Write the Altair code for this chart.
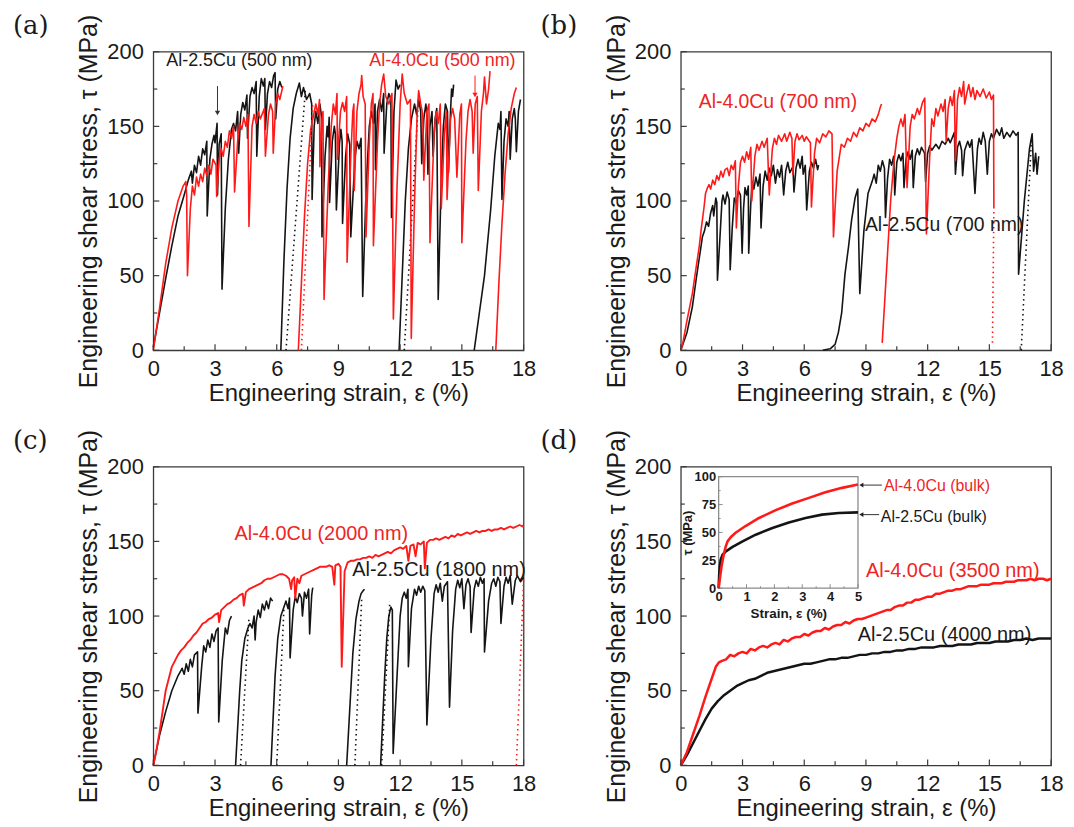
import altair as alt
import pandas as pd

RED = "#ff1a1a"
RED_TEXT = "#ee2525"
BLACK = "#141414"
FRAME = "#3a3a3a"
FONT = "Liberation Sans"
SERIF = "DejaVu Serif"

W, H = 372, 300

# ---------------- tick values ----------------
X_MAJOR = [0, 3, 6, 9, 12, 15, 18]
X_MINOR = [1.5, 4.5, 7.5, 10.5, 13.5, 16.5]
Y_MAJOR = [0, 50, 100, 150, 200]
Y_MINOR = [25, 75, 125, 175]
INSET_X_MAJOR = [0, 1, 2, 3, 4, 5]
INSET_X_MINOR = [0.5, 1.5, 2.5, 3.5, 4.5]
INSET_Y_MAJOR = [0, 25, 50, 75, 100]
INSET_Y_MINOR = [12.5, 37.5, 62.5, 87.5]

# ---------------- panel (a): 500 nm ----------------
A_BLK1 = [(0,2),(0.3,25),(0.6,48),(0.9,70),(1.2,90),(1.5,104),(1.7,114),(1.85,120),(1.9,112),(2.0,124),(2.1,119),(2.2,130),(2.3,124),(2.4,135),(2.5,131),(2.6,140),(2.62,90),(2.75,128),(2.85,138),(2.95,144),(3.0,139),(3.1,152),(3.12,104),(3.2,138),(3.3,145),(3.34,41),(3.5,95),(3.65,128),(3.8,148),(3.9,152),(4.0,147),(4.1,160),(4.15,132),(4.25,158),(4.35,166),(4.45,161),(4.55,171),(4.58,142),(4.7,170),(4.8,176),(4.9,172),(5.0,180),(5.03,130),(5.15,170),(5.25,182),(5.35,177),(5.42,182),(5.45,148),(5.55,172),(5.65,180),(5.75,176),(5.85,184),(5.92,186),(5.95,155),(6.05,175),(6.15,180),(6.25,176)]
A_BLK2 = [(6.2,0),(6.35,60),(6.5,108),(6.65,142),(6.8,162),(6.95,172),(7.1,179),(7.2,170),(7.3,176),(7.45,168),(7.6,172),(7.7,165),(7.72,101),(7.82,150),(7.9,160),(8.0,152),(8.1,165),(8.18,156),(8.2,76),(8.35,130),(8.45,150),(8.5,143),(8.55,156),(8.57,99),(8.7,140),(8.8,150),(8.85,145),(8.9,94),(9.05,138),(9.12,148),(9.18,140),(9.2,85),(9.35,130),(9.45,145),(9.55,138),(9.6,76),(9.8,128),(9.9,140),(10.0,135),(10.1,142),(10.18,36),(10.35,110),(10.5,150),(10.6,160),(10.7,152),(10.78,165),(10.8,121),(10.9,160),(11.0,168),(11.1,160),(11.2,172),(11.22,132),(11.35,165),(11.45,172),(11.55,168),(11.58,89),(11.7,160),(11.8,181),(11.9,175),(12.0,178)]
A_BLK3 = [(11.95,0),(12.1,50),(12.25,100),(12.4,135),(12.55,155),(12.7,165),(12.8,158),(12.9,168),(13.0,160),(13.05,125),(13.15,155),(13.25,165),(13.3,158),(13.35,118),(13.45,150),(13.55,160),(13.6,130),(13.7,155),(13.78,162),(13.85,34),(14.0,115),(14.1,150),(14.2,165),(14.3,160),(14.35,119),(14.45,160),(14.5,175),(14.55,170),(14.6,178)]
A_BLK4 = [(15.6,0),(15.85,25),(16.1,50),(16.4,94),(16.6,130),(16.77,152),(16.85,148),(16.9,160),(16.95,101),(17.05,140),(17.15,155),(17.25,150),(17.3,160),(17.35,128),(17.45,155),(17.55,162),(17.6,155),(17.65,133),(17.75,160),(17.85,168)]
A_BLK_DOT1 = [(6.45,0),(7.4,176)]
A_BLK_DOT2 = [(12.2,0),(12.9,170)]
A_RED1 = [(0,0),(0.3,28),(0.6,58),(0.9,82),(1.2,100),(1.45,110),(1.58,113),(1.62,104),(1.66,50),(1.8,95),(1.9,110),(2.0,104),(2.1,116),(2.2,110),(2.3,118),(2.4,113),(2.5,122),(2.6,117),(2.7,124),(2.8,118),(2.9,128),(3.05,124),(3.08,103),(3.2,128),(3.3,135),(3.4,130),(3.5,140),(3.6,136),(3.7,147),(3.8,142),(3.9,150),(3.95,106),(4.1,140),(4.2,152),(4.3,148),(4.4,156),(4.5,150),(4.6,158),(4.65,83),(4.8,150),(4.9,158),(5.0,152),(5.1,160),(5.2,155),(5.4,162),(5.45,130),(5.6,158),(5.7,165),(5.8,160),(5.83,132),(5.95,165),(6.05,172),(6.15,168),(6.3,177)]
A_RED2 = [(7.05,0),(7.2,45),(7.35,90),(7.5,125),(7.65,148),(7.8,158),(7.9,165),(8.0,158),(8.08,168),(8.1,123),(8.2,155),(8.25,160),(8.3,34),(8.5,110),(8.65,150),(8.75,165),(8.85,158),(8.93,172),(8.95,128),(9.1,160),(9.2,166),(9.3,160),(9.4,170),(9.42,59),(9.6,130),(9.7,160),(9.75,165),(9.77,107),(9.9,160),(10.0,172),(10.1,178),(10.13,184),(10.2,170),(10.3,165),(10.34,76),(10.5,140),(10.6,165),(10.68,172),(10.7,70),(10.9,140),(11.0,165),(11.1,178),(11.2,185),(11.3,170),(11.45,165),(11.6,172),(11.67,21),(11.85,110),(12.0,165),(12.1,185),(12.2,172),(12.35,165),(12.5,168),(12.54,8),(12.7,100),(12.83,160),(12.9,174),(13.0,165),(13.1,158),(13.15,114),(13.3,160),(13.4,165),(13.45,72),(13.65,145),(13.75,160),(13.85,152),(13.95,165),(14.0,95),(14.15,145),(14.25,160),(14.28,101),(14.45,155),(14.55,162),(14.65,155),(14.76,116),(14.9,158),(14.98,165),(15.0,72),(15.2,140),(15.3,160),(15.4,168),(15.5,160),(15.55,132),(15.65,165),(15.75,170),(15.8,107),(15.95,160),(16.05,172),(16.1,183),(16.2,165),(16.3,175),(16.37,187)]
A_RED3 = [(16.65,0),(16.8,45),(16.95,85),(17.1,118),(17.25,145),(17.4,162),(17.55,172),(17.65,176)]
A_RED_DOT1 = [(7.2,0),(7.75,165)]
A_TEXT_X = [0.63, 10.5]
A_TEXT_Y = [193.5, 193.5]
A_TEXT = ["Al-2.5Cu (500 nm)", "Al-4.0Cu (500 nm)"]
A_ARROW_X = [3.12, 15.64]
A_ARROW_Y1 = [177, 184]
A_ARROW_Y2 = [159, 171]

# ---------------- panel (b): 700 nm ----------------
B_BLK1 = [(0,0),(0.3,12),(0.56,29),(0.75,48),(0.9,62),(1.05,76),(1.15,80),(1.25,86),(1.35,83),(1.45,92),(1.55,97),(1.6,90),(1.7,102),(1.75,99),(1.78,47),(1.9,75),(2.0,100),(2.05,104),(2.15,98),(2.25,106),(2.35,101),(2.4,54),(2.5,82),(2.6,102),(2.7,98),(2.8,107),(2.9,104),(2.98,65),(3.05,95),(3.12,109),(3.2,104),(3.28,110),(3.3,65),(3.4,98),(3.47,113),(3.55,108),(3.65,116),(3.75,110),(3.85,118),(3.9,82),(4.0,110),(4.1,120),(4.2,114),(4.3,122),(4.4,117),(4.5,124),(4.6,112),(4.7,121),(4.8,116),(4.9,124),(5.0,104),(5.1,120),(5.2,126),(5.3,119),(5.45,123),(5.5,106),(5.6,122),(5.7,128),(5.8,122),(5.9,130),(5.95,118),(6.05,124),(6.12,94),(6.25,120),(6.35,126),(6.45,122),(6.55,128),(6.65,121),(6.7,124)]
B_BLK2 = [(6.9,0),(7.26,1),(7.5,4),(7.66,12),(7.82,25),(7.98,51),(8.15,69),(8.3,87),(8.47,102),(8.6,108),(8.7,38),(8.9,80),(9.1,105),(9.3,113),(9.4,118),(9.5,112),(9.6,124),(9.7,120),(9.8,127),(9.9,122),(9.95,89),(10.05,115),(10.15,128),(10.25,124),(10.35,130),(10.4,104),(10.5,126),(10.6,131),(10.7,127),(10.8,132),(10.85,109),(10.95,128),(11.05,133),(11.15,128),(11.25,134),(11.3,109),(11.4,130),(11.5,135),(11.6,131),(11.7,136),(11.85,132),(11.9,113),(12.0,132),(12.1,137),(12.2,134),(12.4,138),(12.55,135),(12.7,140),(12.85,138),(13.0,142),(13.1,139),(13.3,146),(13.35,118),(13.45,136),(13.55,140),(13.65,134),(13.7,117),(13.8,134),(13.95,140),(14.05,136),(14.15,141),(14.3,105),(14.42,135),(14.5,142),(14.6,138),(14.7,146),(14.8,140),(14.9,118),(15.0,140),(15.1,145),(15.2,142),(15.35,148),(15.5,144),(15.6,149),(15.7,142),(15.85,146),(16.0,143),(16.15,147),(16.3,144),(16.4,146),(16.42,51),(16.7,100),(16.95,135),(17.08,145),(17.15,120),(17.25,132),(17.32,118),(17.4,130)]
B_BLK_DOT1 = [(16.55,0),(17.05,143)]
B_RED1 = [(0,0),(0.1,5),(0.3,20),(0.56,38),(0.75,56),(0.89,69),(1.0,82),(1.13,96),(1.2,105),(1.3,109),(1.37,111),(1.45,108),(1.55,114),(1.65,111),(1.75,117),(1.85,114),(1.95,120),(2.05,116),(2.15,121),(2.26,122),(2.35,117),(2.45,124),(2.55,121),(2.65,127),(2.7,82),(2.8,110),(2.9,126),(3.0,130),(3.1,126),(3.2,133),(3.3,128),(3.4,136),(3.45,100),(3.6,130),(3.7,138),(3.8,134),(3.95,140),(4.05,136),(4.2,142),(4.3,104),(4.45,135),(4.55,142),(4.65,138),(4.75,144),(4.9,140),(5.05,145),(5.15,140),(5.3,146),(5.4,142),(5.45,118),(5.55,140),(5.65,145),(5.75,141),(5.9,144),(6.0,140),(6.1,143),(6.3,139),(6.35,96),(6.5,132),(6.6,142),(6.75,139),(6.9,145),(7.05,143),(7.2,147),(7.35,145),(7.42,76),(7.6,120),(7.8,138),(7.95,136),(8.1,142),(8.25,140),(8.4,146),(8.55,143),(8.7,149),(8.85,147),(9.0,152),(9.15,150),(9.3,155),(9.45,153),(9.6,158),(9.7,163),(9.76,165)]
B_RED2 = [(9.79,5),(9.9,30),(10.05,65),(10.2,100),(10.35,125),(10.5,142),(10.6,150),(10.7,155),(10.8,150),(10.9,158),(11.0,109),(11.15,150),(11.25,158),(11.35,155),(11.5,162),(11.6,158),(11.75,166),(11.86,169),(11.94,78),(12.1,130),(12.2,155),(12.3,150),(12.4,162),(12.5,157),(12.65,165),(12.75,160),(12.85,168),(12.9,140),(13.0,162),(13.1,170),(13.2,164),(13.3,174),(13.35,127),(13.45,168),(13.55,176),(13.65,170),(13.75,180),(13.8,165),(13.9,172),(14.0,178),(14.1,170),(14.2,176),(14.3,168),(14.4,174),(14.55,170),(14.7,175),(14.85,169),(15.0,173),(15.1,168),(15.2,171),(15.22,96)]
B_RED_DOT1 = [(15.22,96),(15.15,4)]
B_TEXT_X = [0.87, 8.95]
B_TEXT_Y = [166, 84]
B_TEXT = ["Al-4.0Cu (700 nm)", "Al-2.5Cu (700 nm)"]

# ---------------- panel (c): 2000 / 1800 nm ----------------
C_BLK1 = [(0,0),(0.3,20),(0.6,36),(0.9,50),(1.2,60),(1.4,65),(1.5,61),(1.6,68),(1.7,63),(1.8,71),(1.9,66),(2.0,74),(2.15,76),(2.17,35),(2.35,66),(2.45,80),(2.55,76),(2.65,84),(2.75,79),(2.85,88),(2.95,83),(3.05,90),(3.15,92),(3.18,29),(3.35,70),(3.5,92),(3.6,88),(3.7,97),(3.8,100)]
C_BLK2 = [(4.0,0),(4.1,25),(4.2,50),(4.3,70),(4.45,85),(4.6,92),(4.7,95),(4.8,92),(4.9,100),(4.95,84),(5.0,96),(5.1,104),(5.2,99),(5.3,108),(5.4,104),(5.5,110),(5.6,105),(5.7,112),(5.8,110)]
C_BLK3 = [(5.72,0),(5.82,30),(5.92,60),(6.05,85),(6.2,100),(6.35,106),(6.45,110),(6.55,105),(6.62,112),(6.65,72),(6.8,104),(6.9,113),(7.0,109),(7.1,115),(7.2,112),(7.25,100),(7.35,116),(7.45,112),(7.55,118),(7.6,88),(7.7,114),(7.75,119)]
C_BLK4 = [(9.4,0),(9.5,25),(9.6,50),(9.7,75),(9.85,98),(10.0,110),(10.1,115),(10.2,117),(10.27,118)]
C_BLK5 = [(11.05,0),(11.15,30),(11.25,60),(11.35,85),(11.45,100),(11.55,106),(11.62,104),(11.66,8),(11.85,60),(12.0,100),(12.1,112),(12.2,116),(12.3,112),(12.38,118),(12.4,66),(12.55,105),(12.7,118),(12.8,114),(12.9,120),(13.0,116),(13.1,120),(13.2,117),(13.3,27),(13.5,85),(13.65,115),(13.75,121),(13.85,116),(13.95,122),(14.05,110),(14.15,120),(14.3,123),(14.4,39),(14.55,90),(14.7,118),(14.8,124),(14.9,119),(15.0,125),(15.1,105),(15.2,121),(15.3,125),(15.4,120),(15.45,89),(15.6,118),(15.7,124),(15.8,120),(15.9,126),(16.0,122),(16.08,125),(16.1,76),(16.3,110),(16.45,122),(16.55,125),(16.65,120),(16.75,126),(16.85,123),(16.9,95),(17.05,120),(17.15,126),(17.25,122),(17.35,127),(17.45,108),(17.6,124),(17.7,127),(17.85,123),(18.0,126)]
C_BLK_DOT1 = [(4.24,0),(4.65,99)]
C_BLK_DOT2 = [(6.0,0),(6.35,105)]
C_BLK_DOT3 = [(9.8,0),(10.13,112)]
C_BLK_DOT4 = [(11.1,0),(11.5,110)]
C_RED1 = [(0,0),(0.15,10),(0.3,22),(0.45,36),(0.6,50),(0.75,58),(0.9,66),(1.05,70),(1.2,74),(1.35,77),(1.5,79),(1.65,82),(1.8,84),(1.95,87),(2.1,89),(2.25,92),(2.4,95),(2.55,96),(2.7,98),(2.85,99),(3.0,101),(3.15,102),(3.2,96),(3.3,104),(3.45,106),(3.6,108),(3.75,109),(3.9,111),(4.05,112),(4.2,114),(4.35,115),(4.4,107),(4.5,116),(4.65,118),(4.8,119),(4.95,120),(5.1,121),(5.25,122),(5.4,124),(5.55,125),(5.7,125),(5.85,126),(6.0,127),(6.15,128),(6.3,128),(6.45,127),(6.6,125),(6.7,118),(6.75,124),(6.85,126),(6.9,112),(7.0,125),(7.1,122),(7.2,127),(7.35,128),(7.5,129),(7.65,130),(7.8,131),(7.95,132),(8.1,133),(8.25,133),(8.4,133),(8.55,134),(8.7,133),(8.8,121),(8.85,134),(9.0,135),(9.1,133),(9.16,66),(9.3,130),(9.45,136),(9.6,137),(9.75,137),(9.9,138),(10.05,138),(10.2,139),(10.35,139),(10.5,140),(10.65,139),(10.8,141),(10.95,140),(11.1,141),(11.25,142),(11.4,143),(11.55,142),(11.7,144),(11.85,145),(12.0,146),(12.15,145),(12.3,147),(12.4,137),(12.5,147),(12.65,148),(12.75,140),(12.85,149),(13.0,148),(13.15,150),(13.2,132),(13.3,149),(13.45,151),(13.6,151),(13.75,152),(13.9,151),(14.05,152),(14.2,153),(14.35,152),(14.5,154),(14.65,153),(14.8,155),(14.95,154),(15.1,155),(15.25,156),(15.4,155),(15.55,156),(15.7,157),(15.85,156),(16.0,157),(16.15,157),(16.3,158),(16.45,157),(16.6,158),(16.75,158),(16.9,159),(17.05,158),(17.2,159),(17.35,160),(17.5,159),(17.65,160),(17.8,161),(17.95,160),(18.0,161)]
C_RED_DOT1 = [(17.65,0),(17.75,35),(17.85,70),(17.95,105),(18.0,125)]
C_TEXT_X = [3.95, 9.67]
C_TEXT_Y = [155, 131]
C_TEXT = ["Al-4.0Cu (2000 nm)", "Al-2.5Cu (1800 nm)"]

# ---------------- panel (d): 3500 / 4000 nm ----------------
D_RED = [(0,0),(0.3,9),(0.6,21),(0.9,33),(1.2,46),(1.5,58),(1.7,66),(1.85,69),(2.0,70),(2.2,71),(2.4,74),(2.6,73),(2.8,75),(3.0,76),(3.2,75),(3.4,78),(3.6,77),(3.8,79),(4.0,80),(4.2,79),(4.4,81),(4.6,82),(4.8,81),(5.0,84),(5.2,83),(5.4,85),(5.6,86),(5.8,86),(6.0,88),(6.2,87),(6.4,89),(6.6,90),(6.8,90),(7.0,92),(7.2,91),(7.4,93),(7.6,94),(7.8,94),(8.0,96),(8.2,95),(8.4,97),(8.6,98),(8.8,98),(9.0,99),(9.2,100),(9.4,101),(9.6,102),(9.8,103),(10.0,104),(10.2,104),(10.4,106),(10.6,107),(10.8,107),(11.0,109),(11.2,109),(11.4,111),(11.6,111),(11.8,112),(12.0,113),(12.2,113),(12.4,115),(12.6,115),(12.8,116),(13.0,117),(13.2,117),(13.4,118),(13.6,118),(13.8,119),(14.0,120),(14.2,120),(14.4,120),(14.6,121),(14.8,121),(15.0,121),(15.2,122),(15.4,122),(15.6,122),(15.8,123),(16.0,123),(16.2,123),(16.4,124),(16.6,124),(16.8,124),(17.0,125),(17.2,124),(17.4,125),(17.6,125),(17.8,124),(18.0,125)]
D_BLK = [(0,0),(0.3,7),(0.6,15),(0.9,23),(1.2,31),(1.5,38),(1.8,43),(2.1,47),(2.4,50),(2.7,53),(3.0,55),(3.3,57),(3.6,58),(3.9,60),(4.2,62),(4.5,63),(4.8,64),(5.1,65),(5.4,66),(5.7,67),(6.0,68),(6.3,68),(6.6,69),(6.9,70),(7.2,71),(7.5,71),(7.8,72),(8.1,72),(8.4,73),(8.7,74),(9.0,74),(9.3,75),(9.6,75),(9.9,76),(10.2,76),(10.5,77),(10.8,77),(11.1,78),(11.4,78),(11.7,79),(12.0,79),(12.3,79),(12.6,80),(12.9,80),(13.2,80),(13.5,81),(13.8,81),(14.1,81),(14.4,82),(14.7,82),(15.0,82),(15.3,83),(15.6,83),(15.9,83),(16.2,84),(16.5,84),(16.8,85),(17.1,84),(17.4,85),(17.7,85),(18.0,85)]
D_TEXT_X = [9.0, 8.6]
D_TEXT_Y = [130, 87]
D_TEXT = ["Al-4.0Cu (3500 nm)", "Al-2.5Cu (4000 nm)"]

# inset (bulk)
I_RED = [(0,0),(0.05,10),(0.1,19),(0.15,26),(0.2,32),(0.25,37),(0.32,42),(0.44,46),(0.62,50),(0.98,56),(1.45,63),(2.05,70),(2.64,76),(3.24,81),(3.83,86),(4.43,90),(5.0,93)]
I_BLK = [(0,0),(0.02,12),(0.04,20),(0.08,26),(0.14,30),(0.26,33),(0.5,37),(0.86,42),(1.33,48),(1.93,54),(2.52,59),(3.12,63),(3.71,66),(4.31,67.5),(5.0,68)]
I_TEXT_X = [5.93, 5.82]
I_TEXT_Y = [92, 63.5]
I_TEXT = ["Al-4.0Cu (bulk)", "Al-2.5Cu (bulk)"]
I_ARROW_X1 = [5.12, 5.12]
I_ARROW_X2 = [5.86, 5.76]
I_ARROW_Y = [92.5, 66]


def segs_df(segments, tag):
    rows = []
    for k, seg in enumerate(segments):
        for i, (x, y) in enumerate(seg):
            rows.append({"x": x, "y": y, "seg": f"{tag}{k}", "i": i})
    return pd.DataFrame(rows)


def text_df(xs, ys, ts, colors):
    return pd.DataFrame({"x": xs, "y": ys, "t": ts, "c": colors})


def main_encodings():
    xenc = alt.X("x:Q", scale=alt.Scale(domain=[0, 18], nice=False, zero=False),
                 axis=alt.Axis(values=X_MAJOR, title="Engineering strain, ε (%)", ticks=False,
                               domain=False, grid=False, labelFlush=False, labelFontSize=22,
                               titleFontSize=24, labelPadding=8, titlePadding=2,
                               labelFont=FONT, titleFont=FONT, labelColor="#1a1a1a",
                               titleColor="#1a1a1a", titleFontWeight="normal"))
    yenc = alt.Y("y:Q", scale=alt.Scale(domain=[0, 200], nice=False, zero=False),
                 axis=alt.Axis(values=Y_MAJOR, title="Engineering shear stress, τ (MPa)", ticks=False,
                               domain=False, grid=False, labelFontSize=22, titleFontSize=25,
                               labelPadding=10, titlePadding=5, labelFont=FONT, titleFont=FONT,
                               labelColor="#1a1a1a", titleColor="#1a1a1a", titleFontWeight="normal"))
    return xenc, yenc


def tick_layers(xenc, yenc):
    lay = []
    lay.append(alt.Chart(pd.DataFrame({"x": X_MAJOR})).mark_rule(color=FRAME, strokeWidth=1.2)
               .encode(x=xenc, y=alt.value(H), y2=alt.value(H - 6)))
    lay.append(alt.Chart(pd.DataFrame({"x": X_MINOR})).mark_rule(color=FRAME, strokeWidth=1.2)
               .encode(x=xenc, y=alt.value(H), y2=alt.value(H - 4)))
    lay.append(alt.Chart(pd.DataFrame({"y": Y_MAJOR})).mark_rule(color=FRAME, strokeWidth=1.2)
               .encode(y=yenc, x=alt.value(0), x2=alt.value(6)))
    lay.append(alt.Chart(pd.DataFrame({"y": Y_MINOR})).mark_rule(color=FRAME, strokeWidth=1.2)
               .encode(y=yenc, x=alt.value(0), x2=alt.value(4)))
    return lay


def line_layer(segments, tag, color, xenc, yenc, width, dotted=False):
    if dotted:
        mk = alt.Chart(segs_df(segments, tag)).mark_line(color=color, strokeWidth=1.6, strokeDash=[1.5, 3.5])
    else:
        mk = alt.Chart(segs_df(segments, tag)).mark_line(color=color, strokeWidth=width, strokeJoin="round")
    return mk.encode(x=xenc, y=yenc, detail="seg:N", order="i:Q")


def label_layer(letter):
    return alt.Chart(pd.DataFrame({"t": [letter]})).mark_text(
        font=SERIF, fontSize=26, align="left", baseline="alphabetic", color="#1a1a1a"
    ).encode(x=alt.value(-141), y=alt.value(-18), text="t:N")


def text_layer(xs, ys, ts, size, xenc, yenc):
    df = text_df(xs, ys, ts, [RED_TEXT if "4.0Cu" in t else "#1a1a1a" for t in ts])
    return alt.Chart(df).mark_text(font=FONT, fontSize=size, align="left", baseline="middle").encode(
        x=xenc, y=yenc, text="t:N", color=alt.Color("c:N", scale=None))


# ---------------- panel (a) ----------------
xa, ya = main_encodings()
arrows_a = pd.DataFrame({"x": A_ARROW_X, "y": A_ARROW_Y1, "y2": A_ARROW_Y2, "c": ["#333333", RED]})
heads_a = pd.DataFrame({"x": A_ARROW_X, "y": A_ARROW_Y2, "c": ["#333333", RED]})
panel_a = alt.layer(
    line_layer([A_BLK1, A_BLK2, A_BLK3, A_BLK4], "b", BLACK, xa, ya, 1.6),
    line_layer([A_BLK_DOT1, A_BLK_DOT2], "bd", BLACK, xa, ya, 1.6, dotted=True),
    line_layer([A_RED1, A_RED2, A_RED3], "r", RED, xa, ya, 1.6),
    line_layer([A_RED_DOT1], "rd", RED, xa, ya, 1.6, dotted=True),
    alt.Chart(arrows_a).mark_rule(strokeWidth=1).encode(x=xa, y=ya, y2="y2:Q", color=alt.Color("c:N", scale=None)),
    alt.Chart(heads_a).mark_point(shape="triangle-down", filled=True, size=28, opacity=1).encode(
        x=xa, y=ya, color=alt.Color("c:N", scale=None)),
    text_layer(A_TEXT_X, A_TEXT_Y, A_TEXT, 18, xa, ya),
    label_layer("(a)"),
    *tick_layers(xa, ya),
).properties(width=W, height=H)

# ---------------- panel (b) ----------------
xb, yb = main_encodings()
panel_b = alt.layer(
    line_layer([B_BLK1, B_BLK2], "b", BLACK, xb, yb, 1.6),
    line_layer([B_BLK_DOT1], "bd", BLACK, xb, yb, 1.6, dotted=True),
    line_layer([B_RED1, B_RED2], "r", RED, xb, yb, 1.6),
    line_layer([B_RED_DOT1], "rd", RED, xb, yb, 1.6, dotted=True),
    text_layer(B_TEXT_X, B_TEXT_Y, B_TEXT, 19.5, xb, yb),
    label_layer("(b)"),
    *tick_layers(xb, yb),
).properties(width=W, height=H)

# ---------------- panel (c) ----------------
xc, yc = main_encodings()
panel_c = alt.layer(
    line_layer([C_BLK1, C_BLK2, C_BLK3, C_BLK4, C_BLK5], "b", BLACK, xc, yc, 1.6),
    line_layer([C_BLK_DOT1, C_BLK_DOT2, C_BLK_DOT3, C_BLK_DOT4], "bd", BLACK, xc, yc, 1.6, dotted=True),
    line_layer([C_RED1], "r", RED, xc, yc, 1.9),
    line_layer([C_RED_DOT1], "rd", RED, xc, yc, 1.6, dotted=True),
    text_layer(C_TEXT_X, C_TEXT_Y, C_TEXT, 20, xc, yc),
    label_layer("(c)"),
    *tick_layers(xc, yc),
)

# ---------------- panel (d) ----------------
xd, yd = main_encodings()
main_d = alt.layer(
    line_layer([D_BLK], "b", BLACK, xd, yd, 2.5),
    line_layer([D_RED], "r", RED, xd, yd, 2.5),
    text_layer(D_TEXT_X, D_TEXT_Y, D_TEXT, 20, xd, yd),
    label_layer("(d)"),
    *tick_layers(xd, yd),
)

ix = alt.X("x:Q", scale=alt.Scale(domain=[0, 5], range=[38, 178], nice=False, zero=False),
           axis=alt.Axis(orient="bottom", offset=-178, values=INSET_X_MAJOR, title="Strain, ε (%)",
                         ticks=False, domain=False, grid=False, labelFlush=False, labelFontSize=13,
                         labelFontWeight="bold", titleFontSize=13.5, titleFontWeight="bold",
                         labelPadding=2, titlePadding=3, labelFont=FONT, titleFont=FONT,
                         labelColor="#1a1a1a", titleColor="#1a1a1a"))
iy = alt.Y("y:Q", scale=alt.Scale(domain=[0, 100], range=[122, 10], nice=False, zero=False),
           axis=alt.Axis(orient="left", offset=-38, values=INSET_Y_MAJOR, title="τ (MPa)",
                         ticks=False, domain=False, grid=False, labelFontSize=13,
                         labelFontWeight="bold", titleFontSize=13, titleFontWeight="bold",
                         labelPadding=3, titlePadding=0, labelFont=FONT, titleFont=FONT,
                         labelColor="#1a1a1a", titleColor="#1a1a1a"))

inset_frame = alt.Chart(pd.DataFrame({"x": [0], "x2": [5], "y": [0], "y2": [100]})).mark_rect(
    fillOpacity=0, stroke="#8c8c8c", strokeWidth=1.3).encode(x=ix, x2="x2:Q", y=iy, y2="y2:Q")
inset_ticks = [
    alt.Chart(pd.DataFrame({"x": INSET_X_MAJOR})).mark_rule(color="#8c8c8c").encode(x=ix, y=alt.value(122), y2=alt.value(118)),
    alt.Chart(pd.DataFrame({"x": INSET_X_MINOR})).mark_rule(color="#8c8c8c").encode(x=ix, y=alt.value(122), y2=alt.value(120)),
    alt.Chart(pd.DataFrame({"y": INSET_Y_MAJOR})).mark_rule(color="#8c8c8c").encode(y=iy, x=alt.value(38), x2=alt.value(42)),
    alt.Chart(pd.DataFrame({"y": INSET_Y_MINOR})).mark_rule(color="#8c8c8c").encode(y=iy, x=alt.value(38), x2=alt.value(40)),
]
inset_arrows = alt.Chart(pd.DataFrame({"x": I_ARROW_X1, "x2": I_ARROW_X2, "y": I_ARROW_Y})).mark_rule(
    color="#333333", strokeWidth=1).encode(x=ix, x2="x2:Q", y=iy)
inset_heads = alt.Chart(pd.DataFrame({"x": I_ARROW_X1, "y": I_ARROW_Y})).mark_point(
    shape="triangle-left", filled=True, size=22, color="#222222", opacity=1).encode(x=ix, y=iy)
inset_d = alt.layer(
    inset_frame,
    *inset_ticks,
    line_layer([I_BLK], "ib", BLACK, ix, iy, 2.6),
    line_layer([I_RED], "ir", RED, ix, iy, 2.6),
    inset_arrows,
    inset_heads,
    text_layer(I_TEXT_X, I_TEXT_Y, I_TEXT, 16, ix, iy),
)

panel_c = panel_c.properties(width=W, height=H)
panel_d = alt.layer(main_d, inset_d).resolve_scale(x="independent", y="independent").properties(width=W, height=H)

chart = alt.concat(panel_a, panel_b, panel_c, panel_d, columns=2, spacing={"row": 117, "column": 158}).properties(
    bounds="flush", padding={"left": 4, "top": 2, "right": 2, "bottom": 2}
).configure_view(stroke=FRAME, strokeWidth=1.3)

chart.save("out.html", embed_options={"renderer": "svg", "actions": False})
